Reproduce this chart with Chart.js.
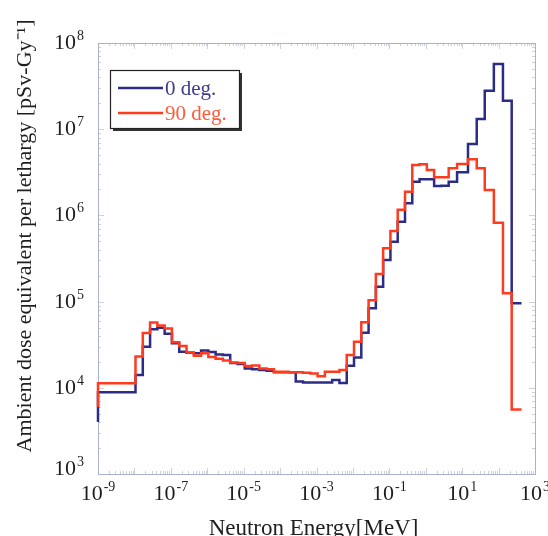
<!DOCTYPE html>
<html>
<head>
<meta charset="utf-8">
<script src="https://cdn.jsdelivr.net/npm/chart.js@4/dist/chart.umd.min.js"></script>
<style>
  html, body { margin: 0; padding: 0; background: #fff; }
  canvas { display: block; }
</style>
</head>
<body>
<canvas id="c" width="548" height="536"></canvas>
<script>
// Histogram bin edges, log10 of neutron energy [MeV]
const edgeExponents = [
  -9, -7.97, -7.77, -7.57, -7.37, -7.17, -6.97, -6.77, -6.57, -6.37, -6.17,
  -5.97, -5.77, -5.57, -5.37, -5.17, -4.97, -4.77, -4.57, -4.37, -4.17,
  -3.97, -3.77, -3.57, -3.37, -3.17, -2.97, -2.77, -2.57, -2.37, -2.17,
  -1.97, -1.77, -1.57, -1.37, -1.17, -0.97, -0.77, -0.57, -0.37, -0.17,
  0.03, 0.23, 0.43, 0.63, 0.86, 1.16, 1.40, 1.62, 1.87, 2.12, 2.36, 2.63
];

// Ambient dose equivalent per lethargy [pSv/Gy], one value per bin
const deg0Values = [
  8.9e3, 1.41e4, 3.0e4, 4.78e4, 4.97e4, 4.25e4, 3.28e4, 2.62e4, 2.55e4, 2.51e4,
  2.71e4, 2.6e4, 2.43e4, 2.4e4, 1.94e4, 1.89e4, 1.68e4, 1.64e4, 1.61e4, 1.58e4,
  1.51e4, 1.51e4, 1.51e4, 1.18e4, 1.15e4, 1.15e4, 1.15e4, 1.15e4, 1.23e4, 1.14e4,
  1.8e4, 2.25e4, 4.35e4, 8.35e4, 1.49e5, 3.04e5, 4.96e5, 8.45e5, 1.38e6, 2.46e6,
  2.62e6, 2.62e6, 2.19e6, 2.21e6, 2.46e6, 3.16e6, 6.73e6, 1.31e7, 2.8e7, 5.7e7,
  2.14e7, 9.55e4
];
const deg90Values = [
  1.13e4, 2.3e4, 4.32e4, 5.72e4, 5.28e4, 4.88e4, 3.38e4, 3.05e4, 2.57e4, 2.35e4,
  2.51e4, 2.28e4, 2.18e4, 2.08e4, 1.96e4, 1.94e4, 1.79e4, 1.82e4, 1.68e4, 1.64e4,
  1.54e4, 1.54e4, 1.51e4, 1.51e4, 1.49e4, 1.47e4, 1.36e4, 1.54e4, 1.54e4, 1.61e4,
  2.4e4, 3.43e4, 5.75e4, 1.04e5, 2.09e5, 4.15e5, 6.6e5, 1.16e6, 1.88e6, 3.85e6,
  3.92e6, 3.37e6, 2.77e6, 2.77e6, 3.52e6, 3.95e6, 4.48e6, 3.52e6, 1.97e6, 8.2e5,
  1.25e5, 5.6e3
];
// Level each trace rises from at the low-energy edge
const deg0Start = 4.0e3;
const deg90Start = 6.0e3;

const seriesLabels = ['0 deg.', '90 deg.'];
const xTickExponents = [-9, -7, -5, -3, -1, 1, 3];
const yTickExponents = [3, 4, 5, 6, 7, 8];
const xTitle = 'Neutron Energy[MeV]';
const yTitle = 'Ambient dose equivalent per lethargy [pSv-Gy\u207B\u00B9]';

const BLUE = '#2b2c86';
const RED = '#ff3b1f';
const SERIF = '"Liberation Serif", "Times New Roman", serif';

// Step outline: rise at the first edge, then one flat segment per bin
function stepPoints(start, values) {
  const pts = [{ x: Math.pow(10, edgeExponents[0]), y: start }];
  values.forEach((v, i) => pts.push({ x: Math.pow(10, edgeExponents[i]), y: v }));
  pts.push({ x: Math.pow(10, edgeExponents[values.length]), y: values[values.length - 1] });
  return pts;
}

function drawPower(ctx, exp, x, baseline, align) {
  const base = '10', sup = String(exp);
  ctx.font = '22px ' + SERIF;
  const wb = ctx.measureText(base).width;
  ctx.font = '14px ' + SERIF;
  const ws = ctx.measureText(sup).width;
  const w = wb + 1 + ws;
  const x0 = align === 'right' ? x - w : x - w / 2;
  ctx.textAlign = 'left';
  ctx.textBaseline = 'alphabetic';
  ctx.font = '22px ' + SERIF;
  ctx.fillText(base, x0, baseline);
  ctx.font = '14px ' + SERIF;
  ctx.fillText(sup, x0 + wb + 1, baseline - 9);
}

const overlay = {
  id: 'overlay',
  beforeDatasetsDraw(chart) {
    const { ctx, chartArea: a, scales: { x, y } } = chart;
    ctx.save();
    // faint inward tick marks on all four sides
    ctx.strokeStyle = '#cdd1dd';
    ctx.lineWidth = 1;
    ctx.beginPath();
    for (let d = -9; d <= 3; d++) {
      for (let m = 1; m <= 9; m++) {
        const v = m * Math.pow(10, d);
        if (v > 1e3 * 1.0001) break;
        const px = Math.round(x.getPixelForValue(v)) + 0.5;
        const len = m === 1 ? 6 : 3;
        ctx.moveTo(px, a.bottom); ctx.lineTo(px, a.bottom - len);
        ctx.moveTo(px, a.top); ctx.lineTo(px, a.top + len);
      }
    }
    for (let d = 3; d <= 8; d++) {
      for (let m = 1; m <= 9; m++) {
        const v = m * Math.pow(10, d);
        if (v > 1e8 * 1.0001) break;
        const py = Math.round(y.getPixelForValue(v)) + 0.5;
        const len = m === 1 ? 6 : 3;
        ctx.moveTo(a.left, py); ctx.lineTo(a.left + len, py);
        ctx.moveTo(a.right, py); ctx.lineTo(a.right - len, py);
      }
    }
    ctx.stroke();
    // plot frame
    ctx.strokeStyle = '#aab1cc';
    ctx.strokeRect(Math.round(a.left) + 0.5, Math.round(a.top) + 0.5,
                   Math.round(a.right - a.left), Math.round(a.bottom - a.top));
    ctx.restore();
  },
  afterDraw(chart) {
    const { ctx, chartArea: a, scales: { x, y } } = chart;
    ctx.save();
    ctx.fillStyle = '#1e1e1e';
    // axis tick labels as powers of ten
    xTickExponents.forEach(e => drawPower(ctx, e, x.getPixelForValue(Math.pow(10, e)), a.bottom + 26, 'center'));
    yTickExponents.forEach(e => {
      const py = y.getPixelForValue(Math.pow(10, e));
      drawPower(ctx, e, a.left - 14, Math.min(py + 6, a.bottom + 1), 'right');
    });
    // axis titles
    ctx.font = '23px ' + SERIF;
    ctx.textAlign = 'center';
    ctx.textBaseline = 'alphabetic';
    ctx.fillText(xTitle, (a.left + a.right) / 2 - 3, 535);
    ctx.save();
    ctx.translate(31, 236);
    ctx.rotate(-Math.PI / 2);
    ctx.font = '22px ' + SERIF;
    ctx.fillText(yTitle, 0, 0);
    ctx.restore();
    // legend box with drop shadow
    const bx = 110, by = 70, bw = 129, bh = 58;
    ctx.fillStyle = '#333';
    ctx.fillRect(bx + 3, by + 3, bw, bh);
    ctx.fillStyle = '#fff';
    ctx.fillRect(bx, by, bw, bh);
    ctx.strokeStyle = '#222';
    ctx.lineWidth = 1.2;
    ctx.strokeRect(bx + 0.5, by + 0.5, bw, bh);
    const rows = [
      { label: seriesLabels[0], line: BLUE, text: '#3b3b8e', y: 88 },
      { label: seriesLabels[1], line: RED, text: '#ff5a3a', y: 113 }
    ];
    rows.forEach(r => {
      ctx.strokeStyle = r.line;
      ctx.lineWidth = 2.5;
      ctx.beginPath();
      ctx.moveTo(118, r.y); ctx.lineTo(163, r.y);
      ctx.stroke();
      ctx.fillStyle = r.text;
      ctx.font = '21px ' + SERIF;
      ctx.textAlign = 'left';
      ctx.fillText(r.label, 165, r.y + 7);
    });
    ctx.restore();
  }
};

new Chart(document.getElementById('c'), {
  type: 'line',
  data: {
    datasets: [
      {
        label: seriesLabels[0],
        data: stepPoints(deg0Start, deg0Values),
        borderColor: BLUE, borderWidth: 2.5, stepped: true,
        pointRadius: 0, fill: false, order: 1, clip: 4
      },
      {
        label: seriesLabels[1],
        data: stepPoints(deg90Start, deg90Values),
        borderColor: RED, borderWidth: 2.5, stepped: true,
        pointRadius: 0, fill: false, order: 0, clip: 4
      }
    ]
  },
  options: {
    responsive: false,
    animation: false,
    devicePixelRatio: 1,
    layout: { padding: { top: 43, right: 13, left: 0, bottom: 0 } },
    plugins: { legend: { display: false }, tooltip: { enabled: false } },
    scales: {
      x: {
        type: 'logarithmic', min: 1e-9, max: 1e3,
        afterBuildTicks: s => { s.ticks = xTickExponents.map(e => ({ value: Math.pow(10, e) })); },
        afterFit: s => { s.height = 62; },
        ticks: { display: false },
        grid: { display: false },
        border: { display: false }
      },
      y: {
        type: 'logarithmic', min: 1e3, max: 1e8,
        afterBuildTicks: s => { s.ticks = yTickExponents.map(e => ({ value: Math.pow(10, e) })); },
        afterFit: s => { s.width = 98; },
        ticks: { display: false },
        grid: { display: false },
        border: { display: false }
      }
    }
  },
  plugins: [overlay]
});
</script>
</body>
</html>
